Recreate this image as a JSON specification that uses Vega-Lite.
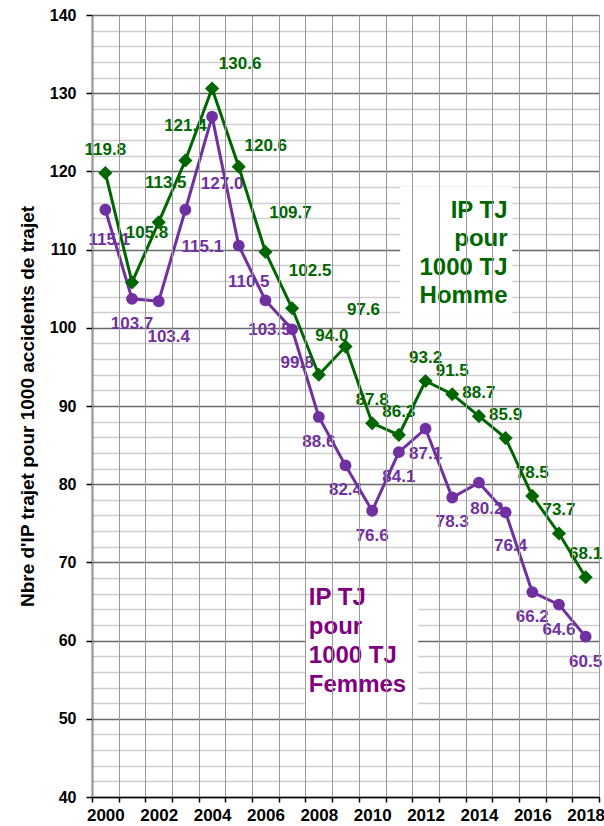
{
  "$schema": "https://vega.github.io/schema/vega-lite/v6.json",
  "autosize": {"type": "none"},
  "width": 507,
  "height": 782,
  "padding": {"left": 92, "top": 15, "right": 5, "bottom": 29},
  "background": "white",
  "config": {
    "view": {"stroke": "#a0a0a0", "strokeWidth": 1},
    "font": "Liberation Sans"
  },
  "datasets": {
    "ip": [
      {"year": 2000, "series": "Homme", "value": 119.8},
      {"year": 2001, "series": "Homme", "value": 105.8},
      {"year": 2002, "series": "Homme", "value": 113.5},
      {"year": 2003, "series": "Homme", "value": 121.4},
      {"year": 2004, "series": "Homme", "value": 130.6},
      {"year": 2005, "series": "Homme", "value": 120.6},
      {"year": 2006, "series": "Homme", "value": 109.7},
      {"year": 2007, "series": "Homme", "value": 102.5},
      {"year": 2008, "series": "Homme", "value": 94.0},
      {"year": 2009, "series": "Homme", "value": 97.6},
      {"year": 2010, "series": "Homme", "value": 87.8},
      {"year": 2011, "series": "Homme", "value": 86.3},
      {"year": 2012, "series": "Homme", "value": 93.2},
      {"year": 2013, "series": "Homme", "value": 91.5},
      {"year": 2014, "series": "Homme", "value": 88.7},
      {"year": 2015, "series": "Homme", "value": 85.9},
      {"year": 2016, "series": "Homme", "value": 78.5},
      {"year": 2017, "series": "Homme", "value": 73.7},
      {"year": 2018, "series": "Homme", "value": 68.1},
      {"year": 2000, "series": "Femmes", "value": 115.1},
      {"year": 2001, "series": "Femmes", "value": 103.7},
      {"year": 2002, "series": "Femmes", "value": 103.4},
      {"year": 2003, "series": "Femmes", "value": 115.1},
      {"year": 2004, "series": "Femmes", "value": 127.0},
      {"year": 2005, "series": "Femmes", "value": 110.5},
      {"year": 2006, "series": "Femmes", "value": 103.5},
      {"year": 2007, "series": "Femmes", "value": 99.8},
      {"year": 2008, "series": "Femmes", "value": 88.6},
      {"year": 2009, "series": "Femmes", "value": 82.4},
      {"year": 2010, "series": "Femmes", "value": 76.6},
      {"year": 2011, "series": "Femmes", "value": 84.1},
      {"year": 2012, "series": "Femmes", "value": 87.1},
      {"year": 2013, "series": "Femmes", "value": 78.3},
      {"year": 2014, "series": "Femmes", "value": 80.2},
      {"year": 2015, "series": "Femmes", "value": 76.4},
      {"year": 2016, "series": "Femmes", "value": 66.2},
      {"year": 2017, "series": "Femmes", "value": 64.6},
      {"year": 2018, "series": "Femmes", "value": 60.5}
    ],
    "notes": [
      {"series": "Homme", "year": 2013, "top": 118.0, "bottom": 101.8, "textyear": 2015, "texty": 114.1},
      {"series": "Femmes", "year": 2010, "top": 64.9, "bottom": 51.0, "textyear": 2008, "texty": 64.5}
    ]
  },
  "data": {"name": "ip"},
  "encoding": {
    "x": {
      "field": "year", "type": "ordinal",
      "scale": {"paddingInner": 0, "paddingOuter": 0},
      "axis": {
        "title": null, "labelAngle": 0,
        "labelExpr": "datum.value % 2 == 0 ? datum.label : ''",
        "tickBand": "extent", "grid": true, "gridColor": "#999999", "gridWidth": 1,
        "domainColor": "#000000", "domainWidth": 1.5,
        "tickColor": "#000000", "tickSize": 5, "tickWidth": 1.5,
        "labelFont": "Liberation Sans", "labelFontWeight": "bold", "labelFontSize": 17,
        "labelColor": "#000000", "labelPadding": 5
      }
    },
    "y": {
      "field": "value", "type": "quantitative",
      "scale": {"domain": [40, 140], "nice": false, "zero": false},
      "axis": {
        "title": "Nbre d'IP trajet pour 1000 accidents de trajet",
        "titleFont": "Liberation Sans", "titleFontWeight": "bold", "titleFontSize": 19, "titleColor": "#000000",
        "titlePadding": 12,
        "values": [40,42,44,46,48,50,52,54,56,58,60,62,64,66,68,70,72,74,76,78,80,82,84,86,88,90,92,94,96,98,100,102,104,106,108,110,112,114,116,118,120,122,124,126,128,130,132,134,136,138,140],
        "labelExpr": "datum.value % 10 == 0 ? datum.label : ''",
        "grid": true,
        "gridColor": {"condition": {"test": "datum.value % 10 == 0", "value": "#6a6a6a"}, "value": "#cfcfcf"},
        "gridWidth": 1.5,
        "tickOpacity": {"condition": {"test": "datum.value % 10 == 0", "value": 1}, "value": 0},
        "domainColor": "#000000", "domainWidth": 1.5,
        "tickColor": "#000000", "tickSize": 6, "tickWidth": 1.5,
        "labelFont": "Liberation Sans", "labelFontWeight": "bold", "labelFontSize": 16,
        "labelColor": "#000000", "labelPadding": 10
      }
    }
  },
  "layer": [
    {
      "data": {"name": "notes"},
      "transform": [{"filter": {"field": "series", "equal": "Homme"}}],
      "mark": {"type": "rect", "color": "white", "width": 112, "xOffset": 4},
      "encoding": {
        "x": {"field": "year", "type": "ordinal"},
        "y": {"field": "top", "type": "quantitative"},
        "y2": {"field": "bottom"}
      }
    },
    {
      "data": {"name": "notes"},
      "transform": [{"filter": {"field": "series", "equal": "Femmes"}}],
      "mark": {"type": "rect", "color": "white", "width": 113, "xOffset": -10.5},
      "encoding": {
        "x": {"field": "year", "type": "ordinal"},
        "y": {"field": "top", "type": "quantitative"},
        "y2": {"field": "bottom"}
      }
    },
    {
      "data": {"name": "notes"},
      "transform": [{"filter": {"field": "series", "equal": "Homme"}}],
      "mark": {"type": "text", "text": ["IP TJ", "pour", "1000 TJ", "Homme"], "align": "right", "baseline": "alphabetic", "lineHeight": 28.5, "dx": 2, "font": "Liberation Sans", "fontWeight": "bold", "fontSize": 24, "color": "#006600"},
      "encoding": {
        "x": {"field": "textyear", "type": "ordinal"},
        "y": {"field": "texty", "type": "quantitative"}
      }
    },
    {
      "data": {"name": "notes"},
      "transform": [{"filter": {"field": "series", "equal": "Femmes"}}],
      "mark": {"type": "text", "text": ["IP TJ", "pour", "1000 TJ", "Femmes"], "align": "left", "baseline": "alphabetic", "lineHeight": 29, "dx": -10, "font": "Liberation Sans", "fontWeight": "bold", "fontSize": 24, "color": "#800080"},
      "encoding": {
        "x": {"field": "textyear", "type": "ordinal"},
        "y": {"field": "texty", "type": "quantitative"}
      }
    },
    {"transform": [{"filter": {"and": [{"field": "series", "equal": "Homme"}, {"field": "year", "oneOf": [2000,2010,2011,2012,2013,2014,2015,2016,2017,2018]}]}}],
     "mark": {"type": "text", "dx": 0, "dy": -23, "font": "Liberation Sans", "fontWeight": "bold", "fontSize": 17, "color": "#006600", "baseline": "middle"},
     "encoding": {"text": {"field": "value", "type": "quantitative", "format": ".1f"}}},
    {"transform": [{"filter": {"and": [{"field": "series", "equal": "Homme"}, {"field": "year", "oneOf": [2001]}]}}],
     "mark": {"type": "text", "dx": 15, "dy": -49, "font": "Liberation Sans", "fontWeight": "bold", "fontSize": 17, "color": "#006600", "baseline": "middle"},
     "encoding": {"text": {"field": "value", "type": "quantitative", "format": ".1f"}}},
    {"transform": [{"filter": {"and": [{"field": "series", "equal": "Homme"}, {"field": "year", "oneOf": [2002]}]}}],
     "mark": {"type": "text", "dx": 7, "dy": -39, "font": "Liberation Sans", "fontWeight": "bold", "fontSize": 17, "color": "#006600", "baseline": "middle"},
     "encoding": {"text": {"field": "value", "type": "quantitative", "format": ".1f"}}},
    {"transform": [{"filter": {"and": [{"field": "series", "equal": "Homme"}, {"field": "year", "oneOf": [2003]}]}}],
     "mark": {"type": "text", "dx": 0, "dy": -34, "font": "Liberation Sans", "fontWeight": "bold", "fontSize": 17, "color": "#006600", "baseline": "middle"},
     "encoding": {"text": {"field": "value", "type": "quantitative", "format": ".1f"}}},
    {"transform": [{"filter": {"and": [{"field": "series", "equal": "Homme"}, {"field": "year", "oneOf": [2004]}]}}],
     "mark": {"type": "text", "dx": 28, "dy": -25, "font": "Liberation Sans", "fontWeight": "bold", "fontSize": 17, "color": "#006600", "baseline": "middle"},
     "encoding": {"text": {"field": "value", "type": "quantitative", "format": ".1f"}}},
    {"transform": [{"filter": {"and": [{"field": "series", "equal": "Homme"}, {"field": "year", "oneOf": [2005]}]}}],
     "mark": {"type": "text", "dx": 27, "dy": -21, "font": "Liberation Sans", "fontWeight": "bold", "fontSize": 17, "color": "#006600", "baseline": "middle"},
     "encoding": {"text": {"field": "value", "type": "quantitative", "format": ".1f"}}},
    {"transform": [{"filter": {"and": [{"field": "series", "equal": "Homme"}, {"field": "year", "oneOf": [2006]}]}}],
     "mark": {"type": "text", "dx": 25, "dy": -39, "font": "Liberation Sans", "fontWeight": "bold", "fontSize": 17, "color": "#006600", "baseline": "middle"},
     "encoding": {"text": {"field": "value", "type": "quantitative", "format": ".1f"}}},
    {"transform": [{"filter": {"and": [{"field": "series", "equal": "Homme"}, {"field": "year", "oneOf": [2007, 2009]}]}}],
     "mark": {"type": "text", "dx": 18, "dy": -37, "font": "Liberation Sans", "fontWeight": "bold", "fontSize": 17, "color": "#006600", "baseline": "middle"},
     "encoding": {"text": {"field": "value", "type": "quantitative", "format": ".1f"}}},
    {"transform": [{"filter": {"and": [{"field": "series", "equal": "Homme"}, {"field": "year", "oneOf": [2008]}]}}],
     "mark": {"type": "text", "dx": 13, "dy": -39, "font": "Liberation Sans", "fontWeight": "bold", "fontSize": 17, "color": "#006600", "baseline": "middle"},
     "encoding": {"text": {"field": "value", "type": "quantitative", "format": ".1f"}}},
    {"transform": [{"filter": {"and": [{"field": "series", "equal": "Femmes"}, {"field": "year", "oneOf": [2001,2008,2009,2010,2011,2012,2013,2016,2017,2018]}]}}],
     "mark": {"type": "text", "dx": 0, "dy": 25, "font": "Liberation Sans", "fontWeight": "bold", "fontSize": 17, "color": "#7030A0", "baseline": "middle"},
     "encoding": {"text": {"field": "value", "type": "quantitative", "format": ".1f"}}},
    {"transform": [{"filter": {"and": [{"field": "series", "equal": "Femmes"}, {"field": "year", "oneOf": [2000, 2006]}]}}],
     "mark": {"type": "text", "dx": 4, "dy": 30, "font": "Liberation Sans", "fontWeight": "bold", "fontSize": 17, "color": "#7030A0", "baseline": "middle"},
     "encoding": {"text": {"field": "value", "type": "quantitative", "format": ".1f"}}},
    {"transform": [{"filter": {"and": [{"field": "series", "equal": "Femmes"}, {"field": "year", "oneOf": [2002, 2005]}]}}],
     "mark": {"type": "text", "dx": 10, "dy": 36, "font": "Liberation Sans", "fontWeight": "bold", "fontSize": 17, "color": "#7030A0", "baseline": "middle"},
     "encoding": {"text": {"field": "value", "type": "quantitative", "format": ".1f"}}},
    {"transform": [{"filter": {"and": [{"field": "series", "equal": "Femmes"}, {"field": "year", "oneOf": [2003]}]}}],
     "mark": {"type": "text", "dx": 17, "dy": 37, "font": "Liberation Sans", "fontWeight": "bold", "fontSize": 17, "color": "#7030A0", "baseline": "middle"},
     "encoding": {"text": {"field": "value", "type": "quantitative", "format": ".1f"}}},
    {"transform": [{"filter": {"and": [{"field": "series", "equal": "Femmes"}, {"field": "year", "oneOf": [2004]}]}}],
     "mark": {"type": "text", "dx": 10, "dy": 67, "font": "Liberation Sans", "fontWeight": "bold", "fontSize": 17, "color": "#7030A0", "baseline": "middle"},
     "encoding": {"text": {"field": "value", "type": "quantitative", "format": ".1f"}}},
    {"transform": [{"filter": {"and": [{"field": "series", "equal": "Femmes"}, {"field": "year", "oneOf": [2007, 2015]}]}}],
     "mark": {"type": "text", "dx": 5, "dy": 34, "font": "Liberation Sans", "fontWeight": "bold", "fontSize": 17, "color": "#7030A0", "baseline": "middle"},
     "encoding": {"text": {"field": "value", "type": "quantitative", "format": ".1f"}}},
    {"transform": [{"filter": {"and": [{"field": "series", "equal": "Femmes"}, {"field": "year", "oneOf": [2014]}]}}],
     "mark": {"type": "text", "dx": 8, "dy": 26, "font": "Liberation Sans", "fontWeight": "bold", "fontSize": 17, "color": "#7030A0", "baseline": "middle"},
     "encoding": {"text": {"field": "value", "type": "quantitative", "format": ".1f"}}},
    {
      "mark": {"type": "line", "strokeWidth": 3},
      "encoding": {
        "color": {"field": "series", "type": "nominal", "scale": {"domain": ["Homme", "Femmes"], "range": ["#006600", "#7030A0"]}, "legend": null}
      }
    },
    {
      "mark": {"type": "point", "filled": true, "opacity": 1},
      "encoding": {
        "color": {"field": "series", "type": "nominal", "scale": {"domain": ["Homme", "Femmes"], "range": ["#006600", "#7030A0"]}, "legend": null},
        "shape": {"field": "series", "type": "nominal", "scale": {"domain": ["Homme", "Femmes"], "range": ["diamond", "circle"]}, "legend": null},
        "size": {"field": "series", "type": "nominal", "scale": {"domain": ["Homme", "Femmes"], "range": [200, 140]}, "legend": null}
      }
    }
  ]
}
